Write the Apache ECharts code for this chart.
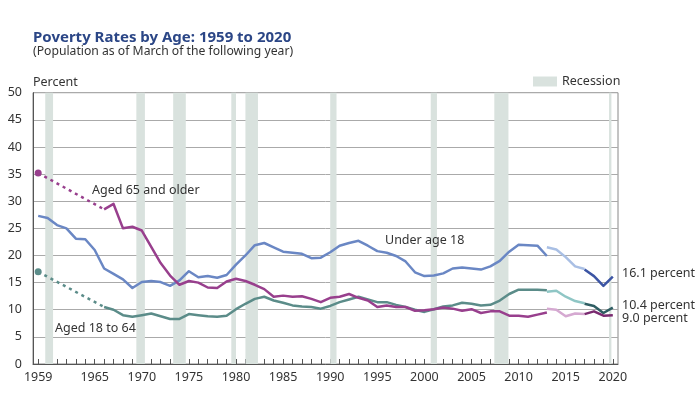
<!DOCTYPE html>
<html><head><meta charset="utf-8">
<script src="https://cdn.jsdelivr.net/npm/echarts@6/dist/echarts.min.js"></script>
<style>html,body{margin:0;padding:0;background:#fff}#c{width:700px;height:394px}</style>
</head><body><div id="c"></div>
<script>
// ---- data ----
var yearsMain = [1959,1960,1961,1962,1963,1964,1965,1966,1967,1968,1969,1970,1971,1972,1973,1974,1975,1976,1977,1978,1979,1980,1981,1982,1983,1984,1985,1986,1987,1988,1989,1990,1991,1992,1993,1994,1995,1996,1997,1998,1999,2000,2001,2002,2003,2004,2005,2006,2007,2008,2009,2010,2011,2012,2013];
var under18Main = [27.3,26.9,25.6,25.0,23.1,23.0,21.0,17.6,16.6,15.6,14.0,15.1,15.3,15.1,14.4,15.4,17.1,16.0,16.2,15.9,16.4,18.3,20.0,21.9,22.3,21.5,20.7,20.5,20.3,19.5,19.6,20.6,21.8,22.3,22.7,21.8,20.8,20.5,19.9,18.9,16.9,16.2,16.3,16.7,17.6,17.8,17.6,17.4,18.0,19.0,20.7,22.0,21.9,21.8,19.9];
var yearsAdult = [1966,1967,1968,1969,1970,1971,1972,1973,1974,1975,1976,1977,1978,1979,1980,1981,1982,1983,1984,1985,1986,1987,1988,1989,1990,1991,1992,1993,1994,1995,1996,1997,1998,1999,2000,2001,2002,2003,2004,2005,2006,2007,2008,2009,2010,2011,2012,2013];
var aged18to64Main = [10.5,10.0,9.0,8.7,9.0,9.3,8.8,8.3,8.3,9.2,9.0,8.8,8.7,8.9,10.1,11.1,12.0,12.4,11.7,11.3,10.8,10.6,10.5,10.2,10.7,11.4,11.9,12.4,11.9,11.4,11.4,10.9,10.5,10.0,9.6,10.1,10.6,10.8,11.3,11.1,10.8,10.9,11.7,12.9,13.7,13.7,13.7,13.6];
var aged65Main = [28.5,29.5,25.0,25.3,24.6,21.6,18.6,16.3,14.6,15.3,15.0,14.1,14.0,15.2,15.7,15.3,14.6,13.8,12.4,12.6,12.4,12.5,12.0,11.4,12.2,12.4,12.9,12.2,11.7,10.5,10.8,10.5,10.5,9.8,9.9,10.1,10.4,10.2,9.8,10.1,9.4,9.7,9.7,8.9,8.9,8.7,9.1,9.5];
var dottedYears = [1959,1966];
var aged65Dotted = [35.2,28.5];
var aged18to64Dotted = [17.0,10.5];
var yearsMid = [2013,2014,2015,2016,2017];
var under18Mid = [21.5,21.1,19.7,18.0,17.5];
var aged18to64Mid = [13.3,13.5,12.4,11.6,11.2];
var aged65Mid = [10.2,10.0,8.8,9.3,9.2];
var yearsLate = [2017,2018,2019,2020];
var under18Late = [17.4,16.2,14.4,16.1];
var aged18to64Late = [11.1,10.7,9.4,10.4];
var aged65Late = [9.2,9.7,8.9,9.0];
var recessions = [[1959.75,1960.58],[1969.42,1970.33],[1973.33,1974.67],[1979.5,1980.0],[1981.0,1982.33],[1990.0,1990.67],[2000.67,2001.33],[2007.42,2008.92],[2019.6,2019.85]];
var xLabelYears = [1959,1965,1970,1975,1980,1985,1990,1995,2000,2005,2010,2015,2020];
var tickYears = [1959,1960,1961,1962,1963,1964,1965,1966,1967,1968,1969,1970,1971,1972,1973,1974,1975,1976,1977,1978,1979,1980,1981,1982,1983,1984,1985,1986,1987,1988,1989,1990,1991,1992,1993,1994,1995,1996,1997,1998,1999,2000,2001,2002,2003,2004,2005,2006,2007,2008,2009,2010,2011,2012,2013,2014,2015,2016,2017,2018,2019,2020];

function pairs(xs, ys){ return xs.map(function(x,i){ return [x, ys[i]]; }); }
var FONT = 'Noto Sans';
var TXT = '#333';

function solid(name, xs, ys, color){
  return {name:name, type:'line', data:pairs(xs,ys), showSymbol:false, symbol:'none',
    lineStyle:{color:color, width:2.5, cap:'butt', join:'round'}, itemStyle:{color:color}, z:3, silent:true, animation:false};
}
function dotted(xs, ys, color){
  var d = pairs(xs,ys).map(function(p,i){ return i===0 ? {value:p, symbol:'circle', symbolSize:7} : {value:p, symbol:'none'}; });
  return {type:'line', data:d, showSymbol:true, lineStyle:{color:color, width:2.5, type:[3,4]}, itemStyle:{color:color}, z:3, silent:true, animation:false};
}

var blue=['#6a87c4','#a9bfe4','#3c55a4'], teal=['#5b8c89','#8fc6c5','#2f5e63'], purp=['#983f8d','#d5a9d1','#7a2a70'];

var series = [
  {name:'Recession', type:'line', data:[], itemStyle:{color:'#d9e2de'}, lineStyle:{color:'#d9e2de'}, z:1, animation:false,
   markArea:{silent:true, itemStyle:{color:'#d9e2de'}, data: recessions.map(function(r){ return [{xAxis:r[0]},{xAxis:r[1]}]; })}},
  dotted(dottedYears, aged65Dotted, purp[0]),
  dotted(dottedYears, aged18to64Dotted, teal[0]),
  solid('u18', yearsMain, under18Main, blue[0]),
  solid('a1864', yearsAdult, aged18to64Main, teal[0]),
  solid('a65', yearsAdult, aged65Main, purp[0]),
  solid('u18m', yearsMid, under18Mid, blue[1]),
  solid('a1864m', yearsMid, aged18to64Mid, teal[1]),
  solid('a65m', yearsMid, aged65Mid, purp[1]),
  solid('u18l', yearsLate, under18Late, blue[2]),
  solid('a1864l', yearsLate, aged18to64Late, teal[2]),
  solid('a65l', yearsLate, aged65Late, purp[2])
];

function txt(x,y,s,opt){
  opt = opt||{};
  return {type:'text', x:x, y:y, silent:true, z:10, style:{text:s, fill:opt.fill||TXT, font:(opt.weight||'normal')+' '+(opt.size||12.5)+'px "'+FONT+'"', align:'left', verticalAlign:'middle'}};
}

var chart = echarts.init(document.getElementById('c'), null, {renderer:'canvas'});
chart.setOption({
  animation:false,
  backgroundColor:'#fff',
  grid:{left:33, right:82, top:92.7, bottom:30, show:true, borderColor:'#888', borderWidth:1, backgroundColor:'transparent'},
  legend:{data:[{name:'Recession', icon:'rect'}], left:533, top:75, padding:0, itemWidth:24, itemHeight:10, itemGap:5, selectedMode:false,
    textStyle:{fontFamily:FONT, fontSize:12.5, color:TXT, padding:[0,0,0,0]}},
  xAxis:{type:'value', min:1958.45, max:2020.55,
    axisLine:{show:true, onZero:false, lineStyle:{color:'#555', width:1}},
    axisTick:{show:true, inside:true, length:5, customValues:tickYears, lineStyle:{color:'#555'}},
    axisLabel:{customValues:xLabelYears, fontFamily:FONT, fontSize:12.5, color:TXT, margin:7, formatter:function(v){return String(v);}},
    splitLine:{show:false}},
  yAxis:{type:'value', min:0, max:50, interval:5,
    axisLine:{show:true, lineStyle:{color:'#555'}}, axisTick:{show:false},
    axisLabel:{fontFamily:FONT, fontSize:12.5, color:TXT, margin:11},
    splitLine:{show:true, lineStyle:{color:'#aaa', width:1}}},
  series: series,
  graphic:[
    txt(33, 37.5, 'Poverty Rates by Age: 1959 to 2020', {size:15, weight:'bold', fill:'#2b4686'}),
    txt(33, 51.7, '(Population as of March of the following year)', {size:12.2}),
    txt(33, 82.3, 'Percent', {size:12.5}),
    txt(92, 190.7, 'Aged 65 and older'),
    txt(385, 240.7, 'Under age 18'),
    txt(55, 328.3, 'Aged 18 to 64'),
    txt(622, 273.3, '16.1 percent'),
    txt(622, 305, '10.4 percent'),
    txt(622, 318.3, '9.0 percent')
  ]
});
</script></body></html>
